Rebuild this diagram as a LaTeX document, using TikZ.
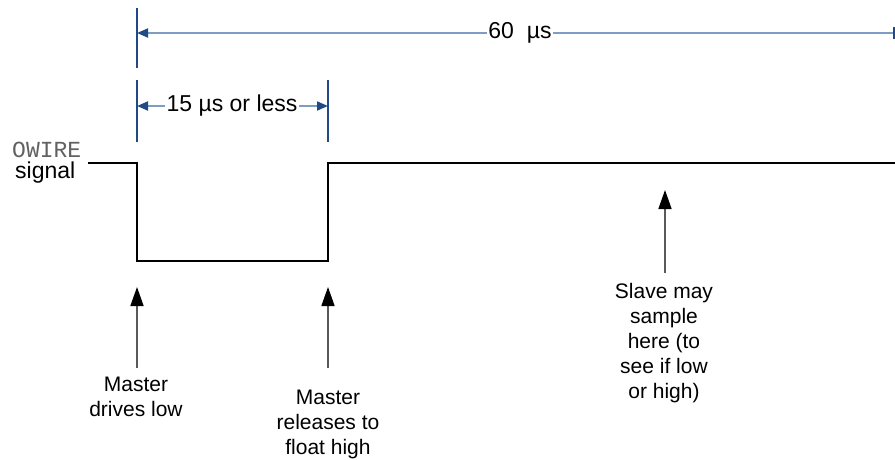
\documentclass[tikz,border=0pt]{standalone}
\usepackage{fontspec}
\setmainfont{Liberation Sans}
\newfontfamily\owmono{Liberation Mono}
\usetikzlibrary{arrows.meta}
\definecolor{dimdark}{HTML}{1F4A86}
\definecolor{dimlight}{HTML}{7F9CC2}
\begin{document}
\begin{tikzpicture}[x=1pt,y=-1pt,
  sig/.style={line width=1.8pt, black},
  dimline/.style={line width=1.8pt, dimlight},
  dimtick/.style={line width=1.8pt, dimdark},
  dimtip/.style={-{Triangle[length=11pt,width=9pt,color=dimdark]}},
  callout/.style={line width=1.6pt, gray!70!black, -{Triangle[length=19pt,width=13pt,color=black]}},
  lbl/.style={font=\fontsize{21}{25}\selectfont, align=center, inner sep=0pt, anchor=north},
  toplbl/.style={font=\fontsize{23}{26}\selectfont, inner sep=1pt}]
\useasboundingbox (0,0) rectangle (895,459);
% signal trace
\coordinate (s0) at (88,163);
\coordinate (s1) at (137,163);
\coordinate (s2) at (137,261);
\coordinate (s3) at (328,261);
\coordinate (s4) at (328,163);
\coordinate (s5) at (895,163);
\draw[sig] (s0) -- (s1) -- (s2) -- (s3) -- (s4) -- (s5);
% dimension ticks
\coordinate (v1a) at (137,8);
\coordinate (v1b) at (137,68);
\coordinate (v2a) at (137,80);
\coordinate (v2b) at (137,142);
\coordinate (v3a) at (328,80);
\coordinate (v3b) at (328,142);
\draw[dimtick] (v1a) -- (v1b);
\draw[dimtick] (v2a) -- (v2b);
\draw[dimtick] (v3a) -- (v3b);
% 60 us
\coordinate (a60l) at (137,33);
\coordinate (a60r) at (894,33);
\coordinate (a60rt) at (894,27);
\coordinate (a60rb) at (894,39);
\node[toplbl] (t60) at (520,33) {60~~µs};
\draw[dimline, dimtip] (t60.west) -- (a60l);
\draw[dimline] (t60.east) -- (a60r);
\draw[dimdark, line width=1.5pt] (a60rt) -- (a60rb);
% 15 us
\coordinate (a15l) at (137,106);
\coordinate (a15r) at (328,106);
\node[toplbl] (t15) at (232,106) {15 µs or less};
\draw[dimline, dimtip] (t15.west) -- (a15l);
\draw[dimline, dimtip] (t15.east) -- (a15r);
% left labels
\node[font=\owmono\fontsize{23}{26}\selectfont, text=black!62, anchor=base west, inner sep=0pt] (ow) at (12,157) {OWIRE};
\node[font=\fontsize{23}{26}\selectfont, anchor=base west, inner sep=0pt] (sg) at (15,178) {signal};
% callouts
\node[lbl] (m1) at (136,377) {Master\\drives low};
\node[lbl] (m2) at (328,390) {Master\\releases to\\float high};
\node[lbl] (sl) at (664,283) {Slave may\\sample\\here (to\\see if low\\or high)};
\coordinate (h1) at (137,287);
\coordinate (h2) at (328,287);
\coordinate (h3) at (665,190);
\draw[callout, shorten <=9pt] (h1 |- m1.north) -- (h1);
\draw[callout, shorten <=22pt] (h2 |- m2.north) -- (h2);
\draw[callout, shorten <=10pt] (h3 |- sl.north) -- (h3);
\end{tikzpicture}
\end{document}
